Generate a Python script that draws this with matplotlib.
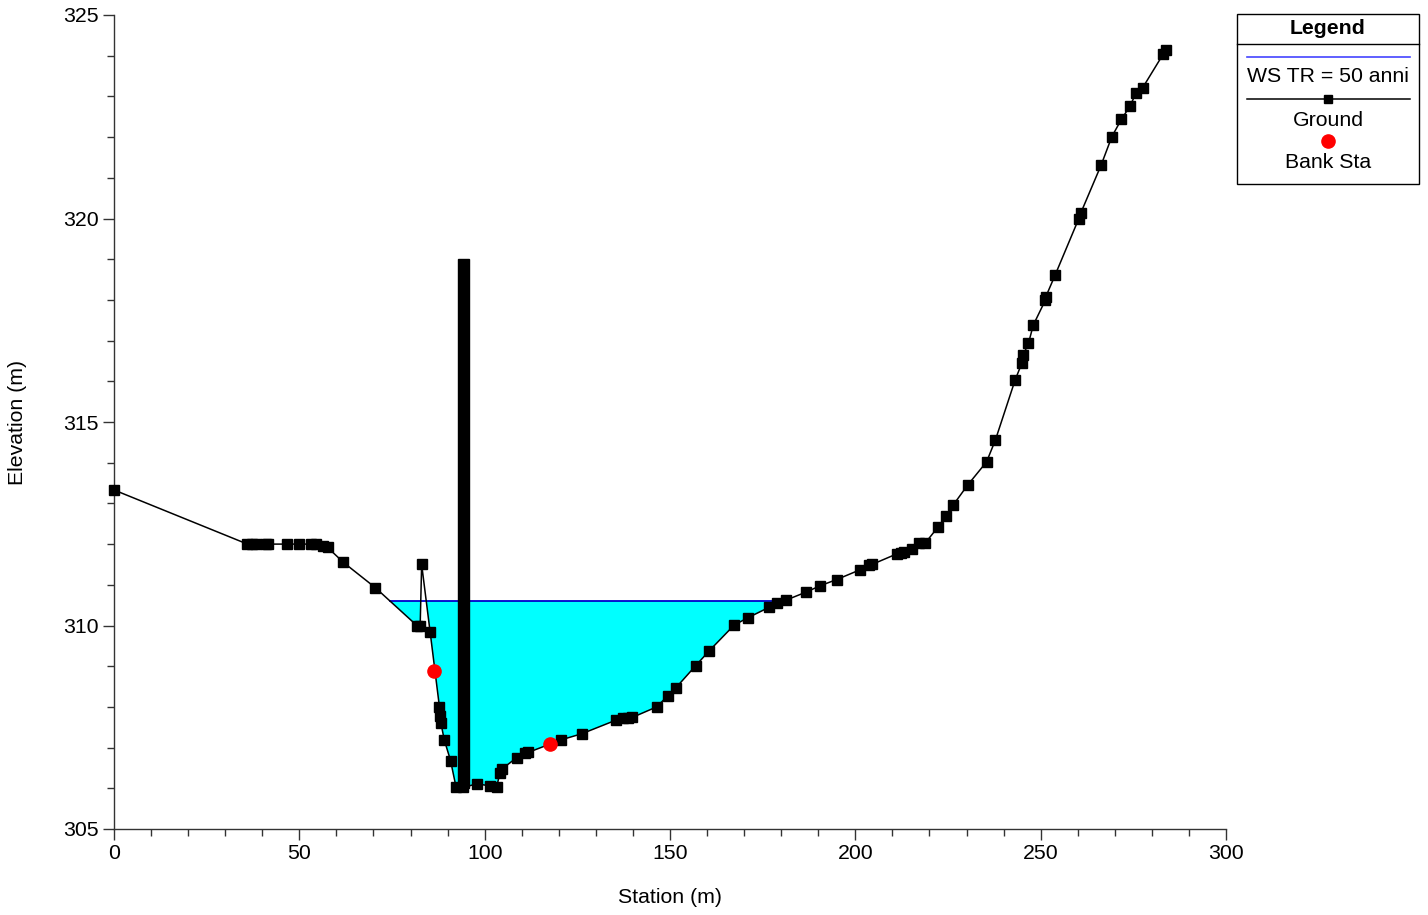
import numpy as np
import matplotlib
matplotlib.use('Agg')
import matplotlib.pyplot as plt
from matplotlib.patches import Rectangle
from matplotlib.lines import Line2D

plt.rcParams['font.family'] = ['Liberation Sans', 'DejaVu Sans']

# ── Cross-section data ───────────────────────────────────────────────────────
station = [0.0, 36.0, 37.2, 38.3, 40.9, 41.6, 46.6, 49.9, 53.2, 54.4, 56.3, 57.6,
           61.9, 70.5, 81.7, 82.6, 83.0, 85.3, 87.8, 88.0, 88.2, 89.1, 90.8,
           92.3, 94.2, 97.9, 101.4, 103.2, 104.1, 104.6, 108.6, 110.9, 111.7,
           120.6, 126.2, 135.3, 137.4, 138.8, 139.8, 146.4, 149.5, 151.6, 156.9,
           160.5, 167.3, 171.0, 176.8, 179.0, 181.2, 186.7, 190.6, 195.0, 201.3,
           203.8, 204.5, 211.2, 212.2, 213.1, 215.3, 217.3, 218.8, 222.4, 224.5,
           226.4, 230.3, 235.4, 237.8, 243.1, 244.9, 245.3, 246.7, 248.0, 251.3,
           251.4, 253.9, 260.3, 260.8, 266.3, 269.2, 271.8, 274.1, 275.7, 277.5,
           283.0, 283.8]
elevation = [313.33, 312.0, 312.0, 312.0, 312.0, 312.0, 312.0, 312.0, 312.0, 312.0,
             311.95, 311.92, 311.55, 310.93, 310.0, 310.0, 311.5, 309.83, 308.0,
             307.78, 307.6, 307.19, 306.68, 306.02, 306.02, 306.11, 306.06, 306.02,
             306.37, 306.47, 306.75, 306.86, 306.88, 307.19, 307.34, 307.67, 307.73,
             307.72, 307.74, 308.0, 308.28, 308.47, 309.01, 309.37, 310.01, 310.19,
             310.45, 310.55, 310.62, 310.82, 310.98, 311.13, 311.37, 311.48, 311.5,
             311.76, 311.79, 311.81, 311.89, 312.02, 312.02, 312.43, 312.70, 312.96,
             313.45, 314.02, 314.56, 316.03, 316.44, 316.65, 316.93, 317.38, 318.0,
             318.08, 318.61, 320.0, 320.13, 321.31, 322.01, 322.44, 322.76, 323.08,
             323.21, 324.03, 324.14]

bank_sta = [86.4, 117.7]
bank_elev = [308.88, 307.09]

ws_elev = 310.6          # WS TR = 50 anni
ws_left, ws_right = 74.5, 180.4

pier_sta = 94.25
pier_width = 3.1
pier_bottom, pier_top = 306.0, 319.0

FS = 15.3

# ── Figure ───────────────────────────────────────────────────────────────────
W, H = 1428, 915
fig = plt.figure(figsize=(W / 100, H / 100), dpi=100)
ax = fig.add_axes([114 / W, 1 - 829 / H, (1226 - 114) / W, (829 - 15) / H])

x = np.array(station)
z = np.array(elevation)

# water fill
xs = np.linspace(ws_left, ws_right, 4000)
zs = np.interp(xs, x, z)
ax.fill_between(xs, zs, ws_elev, where=zs <= ws_elev, interpolate=True,
                color='#00ffff', lw=0, zorder=1)
ax.plot([ws_left, ws_right], [ws_elev, ws_elev], color='#0000cc', lw=1.3, zorder=2)

# ground
ax.plot(x, z, color='black', lw=1.1, marker='s', ms=6.8, zorder=4, clip_on=False)

# obstruction / pier
ax.add_patch(Rectangle((pier_sta - pier_width / 2, pier_bottom), pier_width,
                       pier_top - pier_bottom, color='black', zorder=5))

# bank stations
ax.plot(bank_sta, bank_elev, ls='none', marker='o', ms=9.5, color='#ff0000', zorder=6)

ax.set_xlim(0, 300)
ax.set_ylim(305, 325)
ax.set_xticks(np.arange(0, 301, 50))
ax.set_xticks(np.arange(0, 301, 10), minor=True)
ax.set_yticks(np.arange(305, 326, 5))
ax.set_yticks(np.arange(305, 326, 1), minor=True)
for s in ['top', 'right']:
    ax.spines[s].set_visible(False)
for s in ['left', 'bottom']:
    ax.spines[s].set_color('#333333')
    ax.spines[s].set_linewidth(1.0)
ax.tick_params(which='major', length=8, width=1, color='#333333', labelsize=FS, pad=3)
ax.tick_params(which='minor', length=5, width=1, color='#333333')
ax.set_xlabel('Station (m)', fontsize=FS, labelpad=18)
ax.set_ylabel('Elevation (m)', fontsize=FS, labelpad=26)

# ── Legend box drawn by hand ────────────────────────────────────────────────
def fx(px):
    return px / W

def fy(py):
    return 1 - py / H

tf = fig.transFigure
fig.add_artist(Rectangle((fx(1237), fy(184)), fx(1419) - fx(1237), fy(14) - fy(184),
                         transform=tf, fill=False, ec='black', lw=1))
fig.add_artist(Line2D([fx(1237), fx(1419)], [fy(44), fy(44)], transform=tf,
                      color='black', lw=1))
fig.text(fx(1328), fy(28), 'Legend', ha='center', va='center', fontsize=FS,
         fontweight='bold')
fig.add_artist(Line2D([fx(1247), fx(1410)], [fy(57), fy(57)], transform=tf,
                      color='#4444ff', lw=1.2))
fig.text(fx(1328), fy(77), 'WS TR = 50 anni', ha='center', va='center', fontsize=FS)
fig.add_artist(Line2D([fx(1247), fx(1410)], [fy(99), fy(99)], transform=tf,
                      color='black', lw=1.1))
fig.add_artist(Line2D([fx(1328)], [fy(99)], transform=tf, ls='none', marker='s',
                      ms=6, color='black'))
fig.text(fx(1328), fy(120), 'Ground', ha='center', va='center', fontsize=FS)
fig.add_artist(Line2D([fx(1328)], [fy(141)], transform=tf, ls='none', marker='o',
                      ms=9.5, color='#ff0000'))
fig.text(fx(1328), fy(162), 'Bank Sta', ha='center', va='center', fontsize=FS)

fig.savefig('out.png', dpi=100)
